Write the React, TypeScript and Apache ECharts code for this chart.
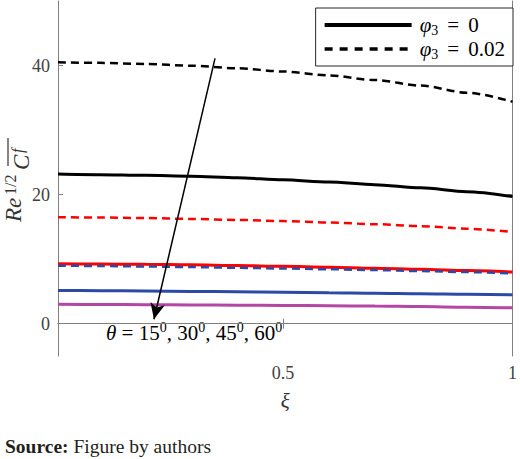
import { useEffect, useRef } from 'react';
import * as echarts from 'echarts';

const FONT = 'Liberation Serif';

const xs = [0.01, 0.1, 0.2, 0.3, 0.4, 0.5, 0.6, 0.7, 0.8, 0.9, 1.0];

// phi3 = 0 (solid)
const blackSolid = [23.2, 23.1, 23.0, 22.85, 22.62, 22.3, 21.95, 21.55, 21.05, 20.45, 19.7];
const redSolid = [9.3, 9.26, 9.2, 9.12, 9.02, 8.9, 8.76, 8.6, 8.43, 8.23, 8.0];
const blueSolid = [5.15, 5.12, 5.07, 5.01, 4.94, 4.87, 4.8, 4.72, 4.64, 4.56, 4.48];
const magentaSolid = [3.0, 2.98, 2.95, 2.92, 2.88, 2.84, 2.79, 2.73, 2.65, 2.57, 2.47];

// phi3 = 0.02 (dashed)
const blackDashed = [40.5, 40.42, 40.25, 39.97, 39.58, 39.08, 38.47, 37.75, 36.9, 35.8, 34.4];
const redDashed = [16.5, 16.46, 16.37, 16.24, 16.08, 15.9, 15.68, 15.42, 15.12, 14.72, 14.2];
const blueDashed = [9.0, 8.95, 8.87, 8.78, 8.67, 8.56, 8.44, 8.31, 8.16, 8.0, 7.8];

const xTicks = [0.5, 1];
const yTicks = [0, 20, 40];

// arrow annotation (data coords): tail -> head
const arrowTail = [0.352, 41.1];
const arrowHead = [0.219, 0.7];

const NAME_SOLID = 'φ3 = 0';
const NAME_DASHED = 'φ3 = 0.02';

const AXIS_COLOR = '#808080';
const LABEL_COLOR = '#404040';

function makeLine(name: string, values: number[], color: string, width: number, dashed: boolean) {
  return {
    type: 'line',
    name,
    data: xs.map((x, i) => [x, values[i]]),
    showSymbol: false,
    symbol: 'none',
    smooth: 0.3,
    smoothMonotone: 'x',
    itemStyle: { color },
    lineStyle: { color, width, type: dashed ? [8, 5] : 'solid' },
    emphasis: { disabled: true },
    silent: true,
  };
}

export default function App() {
  const chartRef = useRef<HTMLDivElement>(null);

  useEffect(() => {
    document.body.style.margin = '0';
    if (!chartRef.current) return;
    const chart = echarts.init(chartRef.current, null, { renderer: 'svg' });

    const tickCommon = {
      show: true,
      inside: true,
      length: 5,
      lineStyle: { color: AXIS_COLOR, width: 1 },
    };

    const series: any[] = [
      makeLine(NAME_SOLID, blackSolid, '#000000', 3, false),
      makeLine(NAME_DASHED, blackDashed, '#000000', 2.5, true),
      makeLine(NAME_DASHED, redDashed, '#ff0000', 2.5, true),
      makeLine(NAME_SOLID, redSolid, '#ff0000', 3, false),
      makeLine(NAME_DASHED, blueDashed, '#2b4aa8', 2.5, true),
      makeLine(NAME_SOLID, blueSolid, '#2b4aa8', 3, false),
      makeLine(NAME_SOLID, magentaSolid, '#b347a3', 3, false),
    ];

    // theta arrow drawn as a markLine in data coordinates
    series[series.length - 1].markLine = {
      silent: true,
      symbol: ['none', 'arrow'],
      symbolSize: [11, 16],
      label: { show: false },
      lineStyle: { color: '#000', width: 1.5, type: 'solid' },
      emphasis: { disabled: true },
      data: [[{ coord: arrowTail }, { coord: arrowHead }]],
    };

    chart.setOption({
      animation: false,
      grid: { left: 58, right: 3, top: 1, bottom: 103 },
      xAxis: [
        {
          type: 'value',
          min: 0.01,
          max: 1,
          position: 'bottom',
          axisLine: { show: true, lineStyle: { color: AXIS_COLOR, width: 1 } },
          axisTick: { ...tickCommon, customValues: xTicks },
          axisLabel: {
            customValues: xTicks,
            formatter: (v: number) => String(v),
            color: LABEL_COLOR,
            fontSize: 18,
            fontFamily: FONT,
            margin: 8,
          },
          splitLine: { show: false },
          name: 'ξ',
          nameLocation: 'middle',
          nameGap: 34,
          nameTextStyle: { color: '#333', fontSize: 21, fontStyle: 'italic', fontFamily: FONT },
        },
        {
          type: 'value',
          min: 0.01,
          max: 1,
          position: 'top',
          axisLine: { show: true, lineStyle: { color: AXIS_COLOR, width: 1 } },
          axisTick: { ...tickCommon, customValues: xTicks },
          axisLabel: { show: false },
          splitLine: { show: false },
        },
      ],
      yAxis: [
        {
          type: 'value',
          min: -5,
          max: 50,
          position: 'left',
          axisLine: { show: true, lineStyle: { color: AXIS_COLOR, width: 1 } },
          axisTick: { ...tickCommon, customValues: yTicks },
          axisLabel: {
            customValues: yTicks,
            color: LABEL_COLOR,
            fontSize: 18,
            fontFamily: FONT,
            margin: 8,
          },
          splitLine: { show: false },
        },
        {
          type: 'value',
          min: -5,
          max: 50,
          position: 'right',
          axisLine: { show: true, lineStyle: { color: AXIS_COLOR, width: 1 } },
          axisTick: { ...tickCommon, customValues: yTicks },
          axisLabel: { show: false },
          splitLine: { show: false },
        },
      ],
      legend: {
        data: [
          { name: NAME_SOLID, lineStyle: { width: 4, type: 'solid' } },
          { name: NAME_DASHED, lineStyle: { width: 3.5, type: [8, 7] } },
        ],
        orient: 'vertical',
        right: 7,
        top: 8,
        padding: [5, 8, 5, 7],
        itemWidth: 87,
        itemHeight: 20,
        itemGap: 0,
        borderColor: '#262626',
        borderWidth: 1,
        backgroundColor: '#ffffff',
        selectedMode: false,
        itemStyle: { opacity: 0, borderWidth: 0 },
        formatter: (name: string) => {
          const val = name.split('= ')[1];
          return `{i|φ}{s|3}{e|=}${val}`;
        },
        textStyle: {
          color: '#000',
          fontSize: 21,
          fontFamily: FONT,
          lineHeight: 24,
          padding: [0, 0, 0, 3],
          rich: {
            i: { fontSize: 21, fontStyle: 'italic', fontFamily: FONT, color: '#000' },
            s: { fontSize: 14, fontFamily: FONT, color: '#000', verticalAlign: 'bottom', lineHeight: 14 },
            e: { fontSize: 21, fontFamily: FONT, color: '#000', width: 30, align: 'center' },
          },
        },
      },
      graphic: [
        {
          // y-axis title Re^{1/2} \overline{C_f}, rotated to read bottom-to-top
          type: 'group',
          x: 1,
          y: 222,
          rotation: Math.PI / 2,
          silent: true,
          children: [
            {
              type: 'text',
              x: 0,
              y: 12,
              style: { text: 'Re', fontSize: 23, fontStyle: 'italic', fontFamily: FONT, fill: '#333', align: 'left', verticalAlign: 'middle' },
            },
            {
              type: 'text',
              x: 27,
              y: 9,
              style: { text: '1/2', fontSize: 16, fontFamily: FONT, fill: '#333', align: 'left', verticalAlign: 'middle' },
            },
            {
              type: 'text',
              x: 52,
              y: 20,
              style: { text: 'C', fontSize: 23, fontStyle: 'italic', fontFamily: FONT, fill: '#333', align: 'left', verticalAlign: 'middle' },
            },
            {
              type: 'text',
              x: 69,
              y: 16,
              style: { text: 'f', fontSize: 16, fontStyle: 'italic', fontFamily: FONT, fill: '#333', align: 'left', verticalAlign: 'middle' },
            },
            {
              type: 'line',
              shape: { x1: 56, y1: 7, x2: 84, y2: 7 },
              style: { stroke: '#333', lineWidth: 1.2 },
            },
          ],
        },
        {
          type: 'text',
          left: 106,
          top: 320,
          silent: true,
          style: {
            text: '{i|θ} = 15{s|0}, 30{s|0}, 45{s|0}, 60{s|0}',
            fontSize: 21,
            fontFamily: FONT,
            fill: '#000',
            lineHeight: 25,
            rich: {
              i: { fontSize: 21, fontStyle: 'italic', fontFamily: FONT, fill: '#000', lineHeight: 25 },
              s: { fontSize: 14, fontFamily: FONT, fill: '#000', verticalAlign: 'top', lineHeight: 14 },
            },
          },
        },
        {
          type: 'text',
          left: 5,
          top: 436,
          silent: true,
          style: {
            text: '{b|Source:} Figure by authors',
            fontSize: 19.5,
            fontFamily: FONT,
            fill: '#231f20',
            rich: {
              b: { fontSize: 19.5, fontWeight: 'bold', fontFamily: FONT, fill: '#231f20' },
            },
          },
        },
      ],
      series,
    });

    return () => {
      chart.dispose();
    };
  }, []);

  return <div ref={chartRef} style={{ width: 520, height: 459 }} />;
}
